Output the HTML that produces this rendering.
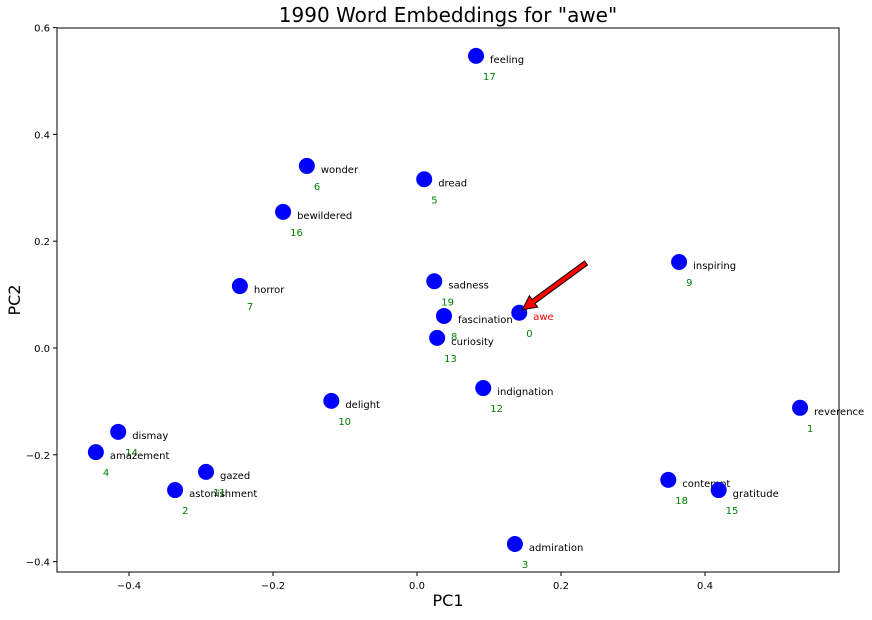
<!DOCTYPE html>
<html><head><meta charset="utf-8"><style>
body{margin:0;background:#fff;font-family:"Liberation Sans","DejaVu Sans",sans-serif;}
svg text{font-family:"DejaVu Sans","Liberation Sans",sans-serif;}
</style></head><body>
<svg id="chart" width="872" height="615" xmlns="http://www.w3.org/2000/svg">
<text x="448" y="22" font-size="20" text-anchor="middle">1990 Word Embeddings for "awe"</text>
<rect x="57" y="28" width="782" height="544" fill="none" stroke="#000" stroke-width="1"/>
<g id="xt"></g><g id="yt"></g><g id="pts"></g>
<text x="448" y="606" font-size="16" text-anchor="middle">PC1</text>
<text x="20" y="300" font-size="16" text-anchor="middle" transform="rotate(-90 20 300)">PC2</text>
</svg>
<script>
const words=["feeling","wonder","dread","bewildered","horror","sadness","inspiring","fascination","awe","curiosity","indignation","delight","reverence","dismay","amazement","gazed","astonishment","contempt","gratitude","admiration"];
const indices=[17,6,5,16,7,19,9,8,0,13,12,10,1,14,4,11,2,18,15,3];
const pc1=[0.082,-0.153,0.010,-0.186,-0.246,0.024,0.364,0.0375,0.142,0.028,0.092,-0.119,0.532,-0.415,-0.446,-0.293,-0.336,0.349,0.419,0.136];
const pc2=[0.547,0.341,0.316,0.255,0.116,0.125,0.161,0.060,0.066,0.019,-0.075,-0.099,-0.112,-0.157,-0.195,-0.232,-0.266,-0.247,-0.266,-0.367];
const xTicks=[-0.4,-0.2,0.0,0.2,0.4];
const yTicks=[-0.4,-0.2,0.0,0.2,0.4,0.6];
const NS="http://www.w3.org/2000/svg";
function sx(v){return 417+v*720;}
function sy(v){return 348-v*534;}
function mk(tag,attrs,parent,txt){const e=document.createElementNS(NS,tag);for(const k in attrs)e.setAttribute(k,attrs[k]);if(txt!==undefined)e.textContent=txt;parent.appendChild(e);return e;}
const xt=document.getElementById('xt'),yt=document.getElementById('yt'),pts=document.getElementById('pts');
xTicks.forEach(v=>{
 const l=mk('line',{x1:sx(v),x2:sx(v),y1:572,y2:576,stroke:'#000'},xt);
 
 
 const t=mk('text',{x:sx(v),y:589,'font-size':10,'text-anchor':'middle'},xt,v.toFixed(1).replace('-','−'));
 
 
});
yTicks.forEach(v=>{
 const l=mk('line',{x1:53,x2:57,y1:sy(v),y2:sy(v),stroke:'#000'},yt);
 
 
 const t=mk('text',{x:50,y:sy(v)+4,'font-size':10,'text-anchor':'end'},yt,v.toFixed(1).replace('-','−'));
 
 
});
words.forEach((w,i)=>{
 const x=sx(pc1[i]),y=sy(pc2[i]);
 const c=mk('circle',{cx:x,cy:y,r:8,fill:'#0000ff'},pts);
 
 
 const t=mk('text',{x:x+14,y:y+7,'font-size':10,fill:w==='awe'?'#ff0000':'#000'},pts,w);
 
 
 const n=mk('text',{x:x+7,y:y+24,'font-size':10,fill:'#008000'},pts,String(indices[i]));
 
 
});
// arrow pointing to awe
const ai=words.indexOf('awe');
const tx=sx(pc1[ai])+3,ty=sy(pc2[ai])-3;
const fx=586,fy=263;
const dx=tx-fx,dy=ty-fy,L=Math.hypot(dx,dy),ux=dx/L,uy=dy/L,px=-uy,py=ux;
const hl=14,hw=7,sw=2.5;
const bx=tx-ux*hl,by=ty-uy*hl;
const p=[[fx+px*sw,fy+py*sw],[bx+px*sw,by+py*sw],[bx+px*hw,by+py*hw],[tx,ty],[bx-px*hw,by-py*hw],[bx-px*sw,by-py*sw],[fx-px*sw,fy-py*sw]];
const ar=mk('polygon',{points:p.map(q=>q.join(',')).join(' '),fill:'#ff0000',stroke:'#000','stroke-width':1},pts);


</script>
</body></html>
